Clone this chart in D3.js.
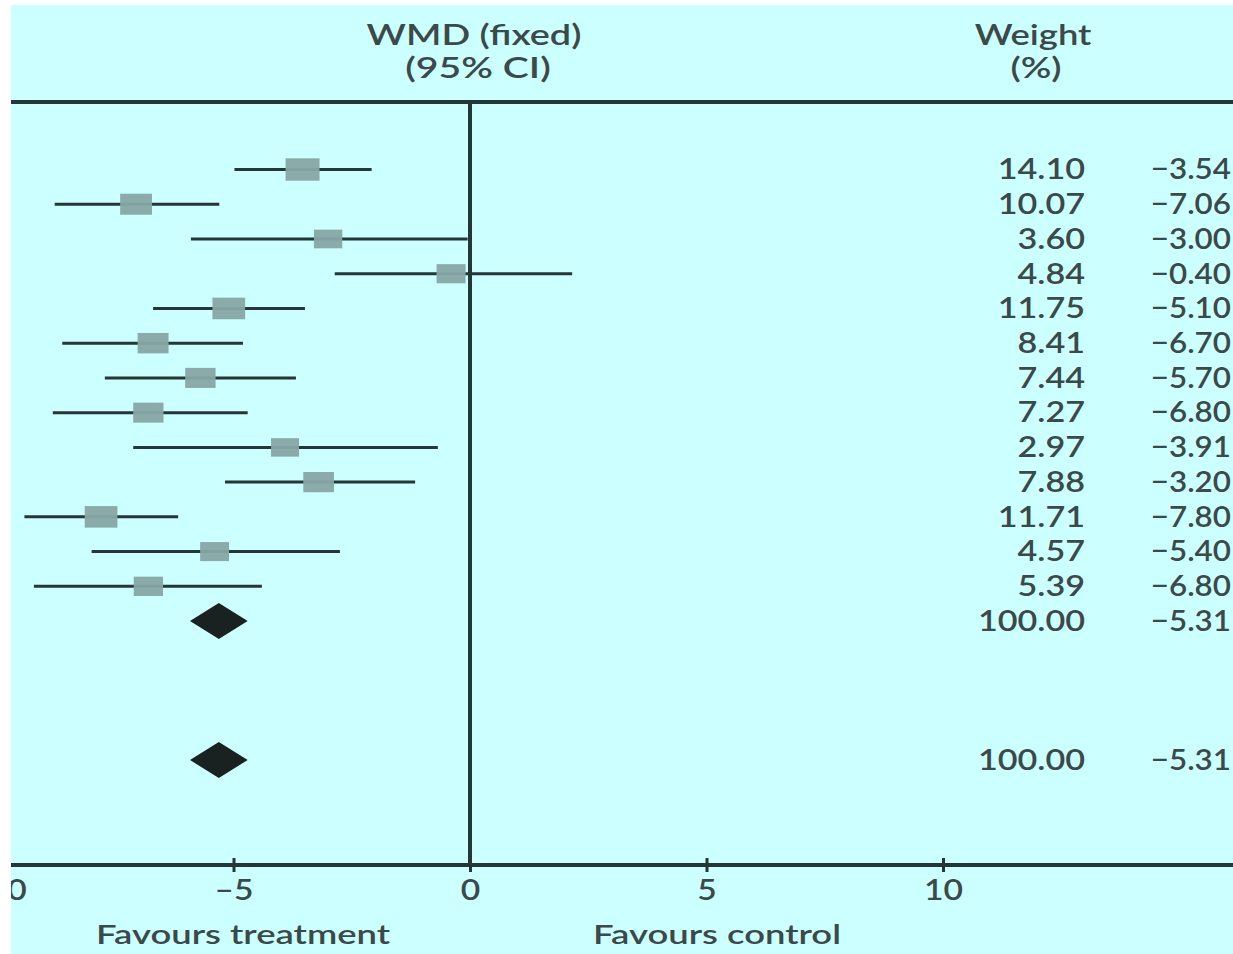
<!DOCTYPE html>
<html>
<head>
<meta charset="utf-8">
<script src="https://cdn.jsdelivr.net/npm/d3@7"></script>
<style>
  body { margin: 0; background: #fff; }
  text { font-family: Lato, "DejaVu Sans", sans-serif; fill: #3b4949; font-weight: 600; }
</style>
</head>
<body>
<div id="chart"></div>
<script>
// study estimates (WMD) with 95% CI
const studyMeans   = [-3.54, -7.06, -3.00, -0.40, -5.10, -6.70, -5.70, -6.80, -3.91, -3.20, -7.80, -5.40, -6.80];
const studyLower   = [-4.98, -8.78, -5.90, -2.86, -6.70, -8.62, -7.72, -8.82, -7.12, -5.18, -9.42, -8.00, -9.22];
const studyUpper   = [-2.08, -5.30, -0.05,  2.16, -3.49, -4.80, -3.68, -4.70, -0.68, -1.16, -6.17, -2.75, -4.40];
const studyWeights = [14.10, 10.07, 3.60, 4.84, 11.75, 8.41, 7.44, 7.27, 2.97, 7.88, 11.71, 4.57, 5.39];

// pooled (fixed) estimates
const pooledMeans   = [-5.31, -5.31];
const pooledLower   = [-5.92, -5.92];
const pooledUpper   = [-4.70, -4.70];
const pooledWeights = [100.00, 100.00];

const xTicks = [-10, -5, 0, 5, 10];

const width = 1233;
const height = 954;

const fmt = v => d3.format(".2f")(v).replace("-", "\u2212");

const svg = d3.select("#chart")
  .append("svg")
  .attr("width", width)
  .attr("height", height);

svg.append("defs").append("clipPath")
  .attr("id", "panel")
  .append("rect")
  .attr("x", 11).attr("y", 5)
  .attr("width", width - 11).attr("height", height - 5);

const g = svg.append("g").attr("clip-path", "url(#panel)");

g.append("rect")
  .attr("x", 11).attr("y", 5)
  .attr("width", width - 11).attr("height", height - 5)
  .attr("fill", "#ccffff");

const x = d3.scaleLinear().domain([-10, 10]).range([-3, 943]);
// rows 0-12 are the studies, 13 and 17 the pooled lines
const y = d3.scaleLinear().domain([0, 17]).range([169.5, 760]);

const studies = studyMeans.map((m, i) => ({
  mean: m, lo: studyLower[i], hi: studyUpper[i], w: studyWeights[i], row: i
}));
const pooled = pooledMeans.map((m, i) => ({
  mean: m, lo: pooledLower[i], hi: pooledUpper[i], w: pooledWeights[i], row: i === 0 ? 13 : 17
}));

const lineColor = "#263535";

// the original type is wide, so stretch text sideways
function label(tx, ty, str, size, anchor, sx) {
  return g.append("text")
    .attr("transform", `translate(${tx},${ty}) scale(${sx},1)`)
    .attr("dy", "0.35em")
    .attr("text-anchor", anchor)
    .attr("font-size", size)
    .text(str);
}

// header
label(474, 35, "WMD (fixed)", 28, "middle", 1.35);
label(478, 68, "(95% CI)", 28, "middle", 1.4);
label(1033, 35, "Weight", 28, "middle", 1.3);
label(1036, 68, "(%)", 28, "middle", 1.35);

g.append("line")
  .attr("x1", 11).attr("x2", width)
  .attr("y1", 102).attr("y2", 102)
  .attr("stroke", lineColor).attr("stroke-width", 4);

// line of no effect
g.append("line")
  .attr("x1", x(0)).attr("x2", x(0))
  .attr("y1", 102).attr("y2", 865)
  .attr("stroke", lineColor).attr("stroke-width", 4);

// x axis
const axis = g.append("g")
  .attr("transform", "translate(0,865)")
  .call(d3.axisBottom(x).tickValues(xTicks).tickSize(7).tickPadding(8)
    .tickFormat(d => String(d).replace("-", "\u2013")));
axis.select(".domain").remove();
axis.selectAll(".tick line")
  .attr("y1", -7).attr("y2", 7)
  .attr("stroke", lineColor).attr("stroke-width", 3);
axis.selectAll(".tick text")
  .attr("font-size", 28)
  .attr("font-family", "Lato, sans-serif")
  .attr("font-weight", 600)
  .attr("fill", "#3b4949")
  .attr("transform", "scale(1.2,1)");
axis.append("line")
  .attr("x1", 11).attr("x2", width)
  .attr("stroke", lineColor).attr("stroke-width", 4);

label(243, 935, "Favours treatment", 27, "middle", 1.35);
label(717, 935, "Favours control", 27, "middle", 1.35);

// study CIs and boxes
const boxW = d3.scaleLinear().domain([2.97, 14.10]).range([28, 34]);

g.selectAll(".ci")
  .data(studies)
  .enter()
  .append("line")
  .attr("class", "ci")
  .attr("x1", d => x(d.lo)).attr("x2", d => x(d.hi))
  .attr("y1", d => y(d.row)).attr("y2", d => y(d.row))
  .attr("stroke", lineColor).attr("stroke-width", 3);

g.selectAll(".box")
  .data(studies)
  .enter()
  .append("rect")
  .attr("class", "box")
  .attr("x", d => x(d.mean) - boxW(d.w) / 2)
  .attr("y", d => y(d.row) - boxW(d.w) * 0.33)
  .attr("width", d => boxW(d.w))
  .attr("height", d => boxW(d.w) * 0.66)
  .attr("fill", "#87a6a6")
  .attr("fill-opacity", 0.95);

// pooled diamonds
g.selectAll(".diamond")
  .data(pooled)
  .enter()
  .append("path")
  .attr("class", "diamond")
  .attr("d", d => {
    const cy = y(d.row);
    return `M${x(d.lo)},${cy}L${x(d.mean)},${cy - 18}L${x(d.hi)},${cy}L${x(d.mean)},${cy + 18}Z`;
  })
  .attr("fill", "#1a2121");

// right-hand columns
const allRows = studies.concat(pooled);

allRows.forEach(d => {
  label(1085, y(d.row), d3.format(".2f")(d.w), 28, "end", 1.22);
  label(1231, y(d.row), fmt(d.mean), 28, "end", 1.12);
});
</script>
</body>
</html>
